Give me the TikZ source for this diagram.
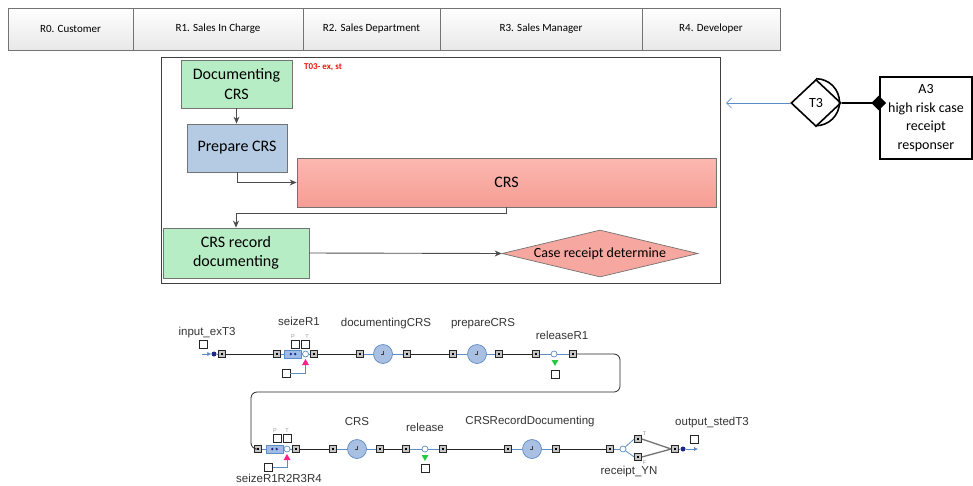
\documentclass[tikz,border=0pt]{standalone}
\usepackage{fontspec}
\setmainfont{Carlito}
\newfontfamily\anyfont{Liberation Sans}
\usepackage{xcolor}
\usepackage{tikz}
\usetikzlibrary{arrows.meta,positioning,shapes.geometric}
\definecolor{hdrgray}{RGB}{232,232,232}
\definecolor{boxgreen}{RGB}{183,237,196}
\definecolor{boxblue}{RGB}{181,203,227}
\definecolor{boxredtop}{RGB}{252,184,176}
\definecolor{boxredbot}{RGB}{245,157,148}
\definecolor{flowblue}{RGB}{92,140,198}
\definecolor{delayfill}{RGB}{169,192,226}
\definecolor{seizefill}{RGB}{160,187,230}
\definecolor{navydot}{RGB}{28,40,140}
\definecolor{resfill}{RGB}{255,30,140}
\definecolor{relfill}{RGB}{40,200,70}
\definecolor{tagred}{RGB}{235,20,20}
\tikzset{
  hdrbox/.style={draw=black!55, top color=white, bottom color=hdrgray, minimum height=42pt, inner sep=0pt, outer sep=0pt, font=\fontsize{11}{13}\selectfont},
  procbox/.style={draw=black!55, line width=0.8pt, align=center, inner sep=0pt, font=\fontsize{16}{19.5}\selectfont},
  greenbox/.style={procbox, fill=boxgreen},
  bluebox/.style={procbox, fill=boxblue},
  redbox/.style={procbox, top color=boxredtop, bottom color=boxredbot},
  decisionbox/.style={diamond, draw=black!55, line width=0.7pt, fill=boxredbot!90, aspect=4.2, inner sep=1pt, minimum width=196pt, minimum height=47pt, font=\fontsize{14}{16}\selectfont},
  flowarrow/.style={-{Stealth[length=7pt,width=6pt]}, draw=black!70, line width=0.9pt},
  transbox/.style={diamond, draw=black, line width=1.6pt, minimum width=50pt, minimum height=47pt, inner sep=0pt, font=\fontsize{14}{16}\selectfont},
  actorbox/.style={draw=black, line width=2.4pt, align=center, inner sep=0pt, font=\fontsize{14}{18.5}\selectfont},
  port/.style={rectangle, draw=black!85, fill=gray!45, minimum size=7pt, inner sep=0pt, line width=0.6pt,
    path picture={\fill[black] ([shift={(-1.4pt,-1.4pt)}]path picture bounding box.center) rectangle ([shift={(1.4pt,1.4pt)}]path picture bounding box.center);}},
  delaynode/.style={circle, draw=flowblue, fill=delayfill, minimum size=19pt, inner sep=0pt, line width=0.7pt,
    path picture={\draw[black!75, line width=0.5pt] ([yshift=3pt]path picture bounding box.center) -- (path picture bounding box.center) -- ([xshift=-2.2pt]path picture bounding box.center);}},
  seizebox/.style={rectangle, draw=flowblue, fill=seizefill, minimum width=17pt, minimum height=8pt, inner sep=0pt, line width=0.6pt,
    path picture={\fill[navydot] ([xshift=-2.2pt]path picture bounding box.center) circle (1.3pt) ([xshift=2.2pt]path picture bounding box.center) circle (1.3pt);}},
  ring/.style={circle, draw=flowblue, fill=white, minimum size=6pt, inner sep=0pt, line width=0.7pt},
  dotnode/.style={circle, fill=navydot, minimum size=5pt, inner sep=0pt},
  emptybox/.style={rectangle, draw=black!85, fill=white, minimum size=8pt, inner sep=0pt, line width=0.6pt},
  restri/.style={regular polygon, regular polygon sides=3, fill=resfill, minimum size=8pt, inner sep=0pt},
  reltri/.style={regular polygon, regular polygon sides=3, shape border rotate=180, fill=relfill, minimum size=8pt, inner sep=0pt},
  conn/.style={draw=black!85, line width=0.8pt},
  link/.style={draw=flowblue, line width=0.8pt},
  branch/.style={draw=black!55, line width=1.3pt},
  flowlabel/.style={font=\anyfont\fontsize{11.5}{13}\selectfont, text=black!80, inner sep=0pt},
  pinlabel/.style={font=\anyfont\fontsize{5.5}{6}\selectfont, text=black!40, inner sep=0pt}
}

\begin{document}
\begin{tikzpicture}[x=1pt, y=-1pt]
  \useasboundingbox (0,0) rectangle (973,485);

  \node[hdrbox, minimum width=125pt] (r0) at (70.5,29) {R0. Customer};
  \node[hdrbox, minimum width=170pt] (r1) at (218,29) {R1. Sales In Charge};
  \node[hdrbox, minimum width=137pt] (r2) at (371.5,29) {R2. Sales Department};
  \node[hdrbox, minimum width=202pt] (r3) at (541,29) {R3. Sales Manager};
  \node[hdrbox, minimum width=138pt] (r4) at (711,29) {R4. Developer};

  \node[draw=black!75, line width=0.8pt, minimum width=559pt, minimum height=226pt, inner sep=0pt] (frame) at (440.5,170) {};
  \node[greenbox, minimum width=111pt, minimum height=48pt] (doc) at (236.5,84) {Documenting\\CRS};
  \node[bluebox, minimum width=100pt, minimum height=48pt] (prep) at (237,148) {Prepare CRS};
  \node[redbox, minimum width=419pt, minimum height=49pt] (crs) at (506.5,182.5) {CRS};
  \node[greenbox, minimum width=146pt, minimum height=50pt] (rec) at (236,253) {CRS record\\documenting};
  \node[decisionbox] (case) at (600,253.5) {Case receipt determine};
  \node[font=\bfseries\fontsize{9}{10}\selectfont, text=tagred, inner sep=0pt] (tag) at (323,67) {T03- ex, st};

  \draw[flowarrow] (doc.south) -- (doc.south |- prep.north);
  \draw[flowarrow] (prep.south) |- (crs.west);
  \draw[flowarrow] (crs.south) -- ++(0,6) -| (rec.north);
  \draw[flowarrow] (rec.east) -- (case.west);

  \node[transbox] (t3) at (816,103) {T3};
  \draw[line width=1.6pt] (t3.north) arc[start angle=90, end angle=-90, radius=23.5pt];
  \node[actorbox, minimum width=92pt, minimum height=82pt] (a3) at (926,118) {A3\\high risk case\\receipt\\responser};
  \coordinate (a3port) at (a3.west |- t3.east);
  \draw[line width=2.4pt] (t3.east) -- (a3port);
  \node[diamond, fill=black, minimum size=15pt, inner sep=0pt] (a3tip) at (a3port) {};
  \coordinate (t3in) at (726,103);
  \draw[draw=flowblue, line width=0.7pt, -{Straight Barb[length=5pt,width=10pt]}] (t3.west) -- (t3in);

  \coordinate (inS) at (202,354);
  \node[dotnode] (inD) at (214,354) {};
  \node[port] (inP) at (222,354) {};
  \node[emptybox] (inB) at (203,344.5) {};
  \node[flowlabel] (inL) at (207,333) {input\_exT3};

  \node[port] (s1i) at (277,354) {};
  \node[seizebox] (s1) at (293,354) {};
  \node[ring] (s1r) at (305.5,354) {};
  \node[port] (s1o) at (314,354) {};
  \node[emptybox] (s1p) at (295,344.5) {};
  \node[emptybox] (s1t) at (305,344.5) {};
  \node[pinlabel] at (293,336.5) {P};
  \node[pinlabel] at (307,336.5) {T};
  \node[restri] (s1k) at (305.5,363) {};
  \node[emptybox] (s1q) at (286,373.5) {};
  \node[flowlabel] (s1L) at (299,321) {seizeR1};

  \node[port] (d1i) at (360,354) {};
  \node[delaynode] (d1) at (383,354) {};
  \node[port] (d1o) at (407,354) {};
  \node[flowlabel] (d1L) at (386,324) {documentingCRS};

  \node[port] (d2i) at (453,354) {};
  \node[delaynode] (d2) at (477,354) {};
  \node[port] (d2o) at (499,354) {};
  \node[flowlabel] (d2L) at (483,324) {prepareCRS};

  \node[port] (r1i) at (536,354) {};
  \node[ring] (rr1) at (554,354) {};
  \node[port] (r1o) at (573,354) {};
  \node[reltri] (r1k) at (555,362) {};
  \node[emptybox] (r1b) at (555,374) {};
  \node[flowlabel] (r1L) at (562,335) {releaseR1};

  \coordinate (bendR) at (620,392);
  \coordinate (bendL) at (251,392);

  \node[port] (s2i) at (258,449) {};
  \node[seizebox] (s2) at (274.5,449) {};
  \node[ring] (s2r) at (287,449) {};
  \node[port] (s2o) at (296,449) {};
  \node[emptybox] (s2p) at (277,438.5) {};
  \node[emptybox] (s2t) at (287,438.5) {};
  \node[pinlabel] at (275,431) {P};
  \node[pinlabel] at (287,431) {T};
  \node[restri] (s2k) at (287,458) {};
  \node[emptybox] (s2q) at (268.5,467) {};
  \node[flowlabel] (s2L) at (279,478) {seizeR1R2R3R4};

  \node[port] (c1i) at (333,449) {};
  \node[delaynode] (c1) at (357,449) {};
  \node[port] (c1o) at (380,449) {};
  \node[flowlabel] (c1L) at (357,422) {CRS};

  \node[port] (r2i) at (406,449) {};
  \node[ring] (rr2) at (425,449) {};
  \node[port] (r2o) at (443,449) {};
  \node[reltri] (r2k) at (425,457) {};
  \node[emptybox] (r2b) at (425,468) {};
  \node[flowlabel] (r2L) at (425,427) {release};

  \node[port] (c2i) at (508,449) {};
  \node[delaynode] (c2) at (532,449) {};
  \node[port] (c2o) at (556,449) {};
  \node[flowlabel] (c2L) at (530,422) {CRSRecordDocumenting};

  \node[port] (yni) at (610,449) {};
  \node[ring] (yn) at (623,449) {};
  \node[port] (ynt) at (638,439) {};
  \node[port] (ynf) at (638,457) {};
  \node[pinlabel] at (644.5,434) {T};
  \node[pinlabel] at (644.5,463) {F};
  \node[flowlabel] (ynL) at (629,472) {receipt\_YN};

  \node[port] (outP) at (675,449) {};
  \node[dotnode] (outD) at (683,449) {};
  \coordinate (outE) at (698,449);
  \node[emptybox] (outB) at (694,439) {};
  \node[flowlabel] (outL) at (712,423) {output\_stedT3};

  \draw[link, -{Latex[length=4pt,width=4.5pt]}] (inS) -- (inD.west);
  \draw[link] (inD) -- (inP);
  \draw[conn] (inP) -- (s1i);
  \draw[link] (s1i) -- (s1) (s1) -- (s1r) (s1r) -- (s1o);
  \draw[link] (s1q.east) -| (s1k.south);
  \draw[conn] (s1o) -- (d1i);
  \draw[link] (d1i) -- (d1) -- (d1o);
  \draw[conn] (d1o) -- (d2i);
  \draw[link] (d2i) -- (d2) -- (d2o);
  \draw[conn] (d2o) -- (r1i);
  \draw[link] (r1i) -- (rr1) -- (r1o);
  \draw[conn, rounded corners=6pt] (r1o.east) -| (bendR) -- (bendL) |- (s2i.west);
  \draw[link] (s2i) -- (s2) (s2) -- (s2r) (s2r) -- (s2o);
  \draw[link] (s2q.east) -| (s2k.south);
  \draw[conn] (s2o) -- (c1i);
  \draw[link] (c1i) -- (c1) -- (c1o);
  \draw[conn] (c1o) -- (r2i);
  \draw[link] (r2i) -- (rr2) -- (r2o);
  \draw[conn] (r2o) -- (c2i);
  \draw[link] (c2i) -- (c2) -- (c2o);
  \draw[conn] (c2o) -- (yni);
  \draw[link] (yni) -- (yn);
  \draw[link] (yn) -- (ynt.west);
  \draw[link] (yn) -- (ynf.west);
  \draw[branch] (ynt.east) -- (outP.west);
  \draw[branch] (ynf.east) -- (outP.west);
  \draw[link] (outP) -- (outD);
  \draw[link, -{Latex[length=4pt,width=4.5pt]}] (outD) -- (outE);
\end{tikzpicture}
\end{document}
